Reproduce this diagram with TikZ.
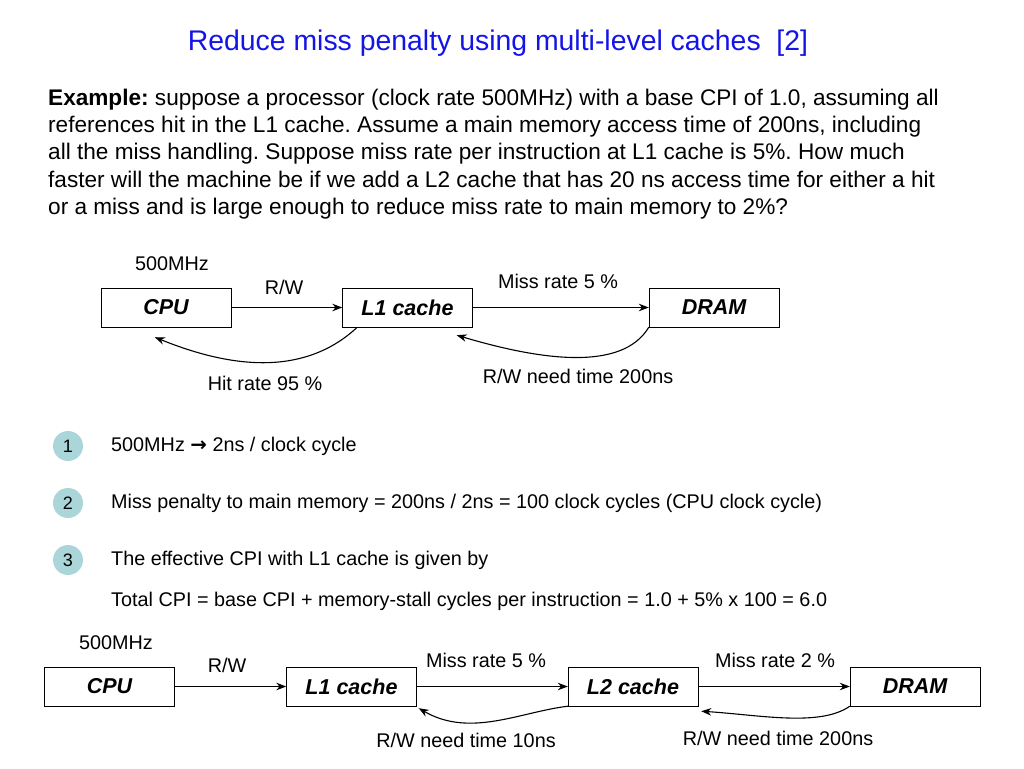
\documentclass[tikz,border=0pt]{standalone}
\usepackage{fontspec}
\setmainfont{Liberation Sans}
\newfontfamily\arrowfont{DejaVu Sans}
\usepackage{xcolor}
\usetikzlibrary{arrows.meta}
\frenchspacing

\definecolor{titleblue}{RGB}{20,20,230}
\definecolor{dotteal}{RGB}{170,214,218}

\tikzset{
	unit/.style={draw,minimum width=130pt,minimum height=39pt,inner sep=0pt,font=\fontsize{21.5}{24}\selectfont\bfseries\itshape},
	lbl/.style={font=\fontsize{19.8}{22}\selectfont,inner sep=0pt},
	item/.style={font=\fontsize{19.8}{22}\selectfont,inner sep=0pt,anchor=west},
	dot/.style={circle,fill=dotteal,minimum size=30pt,inner sep=0pt,font=\fontsize{18}{19}\selectfont},
	link/.style={-{Stealth[length=10pt,width=7.5pt]},line width=1.1pt}
}

\begin{document}
\begin{tikzpicture}[x=1pt,y=-1pt]
	\useasboundingbox (0,0) rectangle (1024,768);
	
	% title and problem text
	\node[text=titleblue,font=\fontsize{28.4}{32}\selectfont,inner sep=0pt] (title) at (498,43) {Reduce miss penalty using multi-level caches\ \ [2]};
	\node[anchor=north west,align=left,inner sep=0pt,font=\fontsize{22.6}{27.2}\selectfont] (problem) at (48,89)
	{\textbf{Example:} suppose a processor (clock rate 500MHz) with a base CPI of 1.0, assuming all\\
	references hit in the L1 cache. Assume a main memory access time of 200ns, including\\
	all the miss handling. Suppose miss rate per instruction at L1 cache is 5\%. How much\\
	faster will the machine be if we add a L2 cache that has 20 ns access time for either a hit\\
	or a miss and is large enough to reduce miss rate to main memory to 2\%?};
	
	% one level of cache
	\node[unit] (cpuA) at (166,307.5) {CPU};
	\node[unit] (lA) at (407.5,307.5) {L1 cache};
	\node[unit] (dramA) at (714,307.5) {DRAM};
	\node[lbl] (clkA) at (172,264) {500MHz};
	\node[lbl] (rwA) at (284,287) {R/W};
	\node[lbl] (missA) at (558,281) {Miss rate 5 \%};
	\node[lbl] (hitA) at (265,383) {Hit rate 95 \%};
	\node[lbl] (timeA) at (578,376) {R/W need time 200ns};
	\draw[link] (cpuA) -- (lA);
	\draw[link] (lA) -- (dramA);
	\draw[link] ([xshift=15pt]lA.south west) .. controls (320,362) and (260,380) .. ([shift={(54,10)}]cpuA.south west);
	\draw[link] (dramA.south west) .. controls (622,372) and (540,360) .. ([shift={(-16,8)}]lA.south east);
	
	% numbered steps
	\node[dot] (n1) at (68,446) {1};
	\node[dot] (n2) at (68,503) {2};
	\node[dot] (n3) at (68,560) {3};
	\node[item] (s1) at (111,446) {500MHz {\arrowfont\bfseries →} 2ns / clock cycle};
	\node[item] (s2) at (111,503) {Miss penalty to main memory = 200ns / 2ns = 100 clock cycles (CPU clock cycle)};
	\node[item] (s3) at (111,560) {The effective CPI with L1 cache is given by};
	\node[item] (s4) at (111,601) {Total CPI = base CPI + memory-stall cycles per instruction = 1.0 + 5\% x 100 = 6.0};
	
	% two levels of cache
	\node[unit] (cpuB) at (109.5,686.5) {CPU};
	\node[unit] (lB) at (351.5,686.5) {L1 cache};
	\node[unit] (lC) at (633,686.5) {L2 cache};
	\node[unit] (dramB) at (915,686.5) {DRAM};
	\node[lbl] (clkB) at (116,643) {500MHz};
	\node[lbl] (rwB) at (227,665) {R/W};
	\node[lbl] (missB) at (486,660) {Miss rate 5 \%};
	\node[lbl] (missC) at (775,660) {Miss rate 2 \%};
	\node[lbl] (timeB) at (466,740) {R/W need time 10ns};
	\node[lbl] (timeC) at (778,738) {R/W need time 200ns};
	\draw[link] (cpuB) -- (lB);
	\draw[link] (lB) -- (lC);
	\draw[link] (lC) -- (dramB);
	\draw[link] (lC.south west) .. controls (520,712) and (470,738) .. ([shift={(2,2)}]lB.south east);
	\draw[link] (dramB.south west) .. controls (820,727) and (760,715) .. ([shift={(3,5)}]lC.south east);
\end{tikzpicture}
\end{document}
